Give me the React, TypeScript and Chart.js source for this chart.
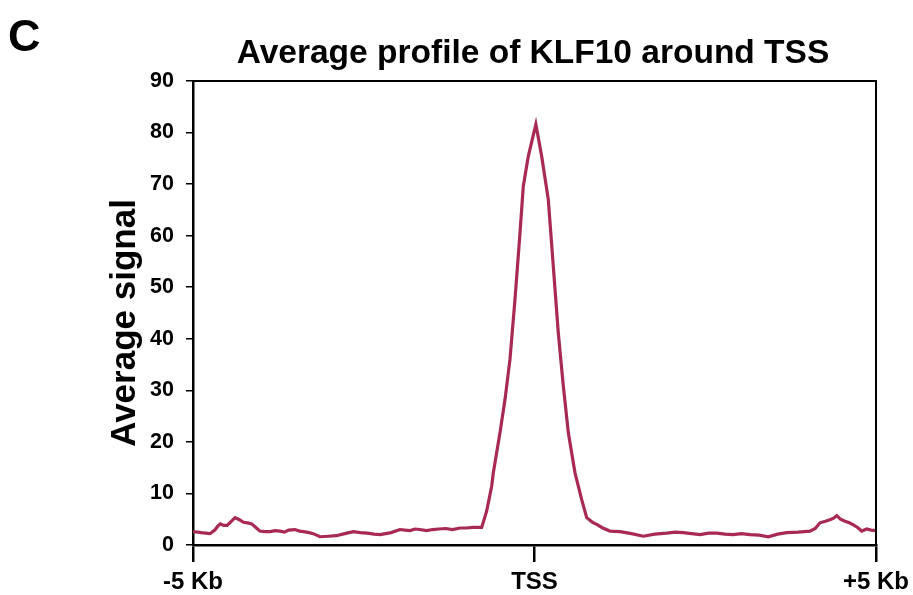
import React, { useEffect, useRef } from "react";
import { Chart, registerables } from "chart.js";

Chart.register(...registerables);

// Distance from TSS (bp)
const positionsBp = [
  -5000, -4930, -4880, -4750, -4680, -4640, -4600, -4550, -4500, -4440, -4385, -4320, -4260, -4200,
  -4140, -4080, -4020, -3950, -3870, -3800, -3730, -3660, -3600, -3510, -3440, -3380, -3300, -3240,
  -3140, -3020, -2900, -2780, -2650, -2550, -2450, -2350, -2260, -2180, -2100, -1970, -1900, -1820,
  -1750, -1680, -1580, -1490, -1400, -1300, -1200, -1090, -1000, -900, -773, -700, -627, -603,
  -505, -432, -359, -286, -212, -164, -91, 20, 105, 202, 275, 348, 422, 495, 593, 691, 764, 850,
  911, 1000, 1105, 1252, 1420, 1593, 1760, 1936, 2060, 2179, 2300, 2423, 2550, 2668, 2790, 2906,
  3030, 3155, 3290, 3423, 3560, 3692, 3860, 4034, 4110, 4180, 4260, 4326, 4380, 4425, 4480, 4546,
  4610, 4668, 4730, 4791, 4864, 4930, 5000,
];

// Average signal of KLF10
const signal = [
  2.6, 2.5, 2.4, 2.2, 2.9, 3.6, 4.1, 3.8, 3.8, 4.6, 5.3, 4.9, 4.4, 4.3,
  4.1, 3.4, 2.7, 2.6, 2.6, 2.8, 2.7, 2.5, 2.9, 3.0, 2.7, 2.6, 2.4, 2.2,
  1.6, 1.7, 1.8, 2.2, 2.6, 2.4, 2.3, 2.1, 2.0, 2.2, 2.4, 3.0, 2.9, 2.8,
  3.1, 3.0, 2.8, 3.0, 3.1, 3.2, 3.0, 3.3, 3.3, 3.4, 3.4, 6.6, 11.4, 14.0,
  21.8, 28.2, 36.0, 47.6, 60.6, 69.6, 75.4, 81.6, 75.4, 67.0, 54.1, 41.2, 30.8, 21.8, 14.0, 8.8, 5.3, 4.4,
  4.0, 3.3, 2.7, 2.6, 2.2, 1.7, 2.1, 2.3, 2.5, 2.4, 2.2, 2.0, 2.3, 2.3, 2.1, 2.0,
  2.2, 2.0, 1.9, 1.6, 2.1, 2.4, 2.5, 2.7, 3.2, 4.3, 4.6, 4.9, 5.2, 5.7, 5.0, 4.6,
  4.3, 3.9, 3.4, 2.7, 3.1, 2.9, 2.8,
];

const xTickValues = [-5000, 0, 5000];
const xTickLabels = ["-5 Kb", "TSS", "+5 Kb"];

const chartTitle = "Average profile of KLF10 around TSS";
const panelLetter = "C";
const yAxisTitle = "Average signal";

const FONT = "'Liberation Sans', Arial, sans-serif";

export default function App() {
  const ref = useRef<HTMLCanvasElement | null>(null);

  useEffect(() => {
    if (!ref.current) return;

    const decor = {
      id: "decor",
      afterDraw(chart: any) {
        const { ctx, chartArea } = chart;
        ctx.save();
        // box top and right
        ctx.strokeStyle = "#000";
        ctx.lineWidth = 2;
        ctx.beginPath();
        ctx.moveTo(chartArea.left, chartArea.top);
        ctx.lineTo(chartArea.right, chartArea.top);
        ctx.lineTo(chartArea.right, chartArea.bottom);
        ctx.stroke();
        // title
        ctx.fillStyle = "#000";
        ctx.font = `bold 33.5px ${FONT}`;
        ctx.textAlign = "center";
        ctx.textBaseline = "alphabetic";
        ctx.fillText(chartTitle, 533, 63);
        // panel letter
        ctx.font = `bold 45px ${FONT}`;
        ctx.textAlign = "left";
        ctx.fillText(panelLetter, 8, 51);
        // y axis title
        ctx.translate(125, 323);
        ctx.rotate(-Math.PI / 2);
        ctx.font = `bold 35px ${FONT}`;
        ctx.textAlign = "center";
        ctx.textBaseline = "middle";
        ctx.fillText(yAxisTitle, 0, 0);
        ctx.restore();
      },
    };

    const chart = new Chart(ref.current, {
      type: "line",
      data: {
        datasets: [
          {
            data: positionsBp.map((x, i) => ({ x, y: signal[i] })),
            borderColor: "#a82a52",
            borderWidth: 3.2,
            pointRadius: 0,
            tension: 0,
            fill: false,
          },
        ],
      },
      options: {
        animation: false,
        responsive: true,
        maintainAspectRatio: false,
        layout: { padding: { left: 0, right: 37, top: 81, bottom: 0 } },
        plugins: {
          legend: { display: false },
          tooltip: { enabled: false },
          title: { display: false },
        },
        scales: {
          x: {
            type: "linear",
            min: -5000,
            max: 5000,
            afterBuildTicks: (s: any) => {
              s.ticks = xTickValues.map((v) => ({ value: v }));
            },
            afterFit: (s: any) => {
              s.height = 50;
              s.paddingLeft = 0;
              s.paddingRight = 0;
            },
            ticks: {
              autoSkip: false,
              maxRotation: 0,
              padding: 6,
              color: "#000",
              font: { family: FONT, size: 24, weight: "bold" },
              callback: (v: any) => {
                const i = xTickValues.indexOf(Number(v));
                return i >= 0 ? xTickLabels[i] : "";
              },
            },
            grid: {
              drawOnChartArea: false,
              drawTicks: true,
              tickLength: 17,
              lineWidth: 2.5,
              color: "#000",
            },
            border: { display: true, color: "#000", width: 2.5 },
          },
          y: {
            min: 0,
            max: 90,
            afterFit: (s: any) => {
              s.width = 193;
              s.paddingTop = 0;
              s.paddingBottom = 0;
            },
            ticks: {
              stepSize: 10,
              padding: 12,
              color: "#000",
              font: { family: FONT, size: 21.5, weight: "bold" },
            },
            grid: {
              drawOnChartArea: false,
              drawTicks: true,
              tickLength: 7,
              lineWidth: 1.5,
              color: "#000",
            },
            border: { display: true, color: "#000", width: 2.5 },
            title: { display: false },
          },
        },
      },
      plugins: [decor],
    });

    return () => chart.destroy();
  }, []);

  return (
    <div style={{ position: "absolute", left: 0, top: 0, width: 913, height: 595, background: "#fff" }}>
      <canvas ref={ref} />
    </div>
  );
}
